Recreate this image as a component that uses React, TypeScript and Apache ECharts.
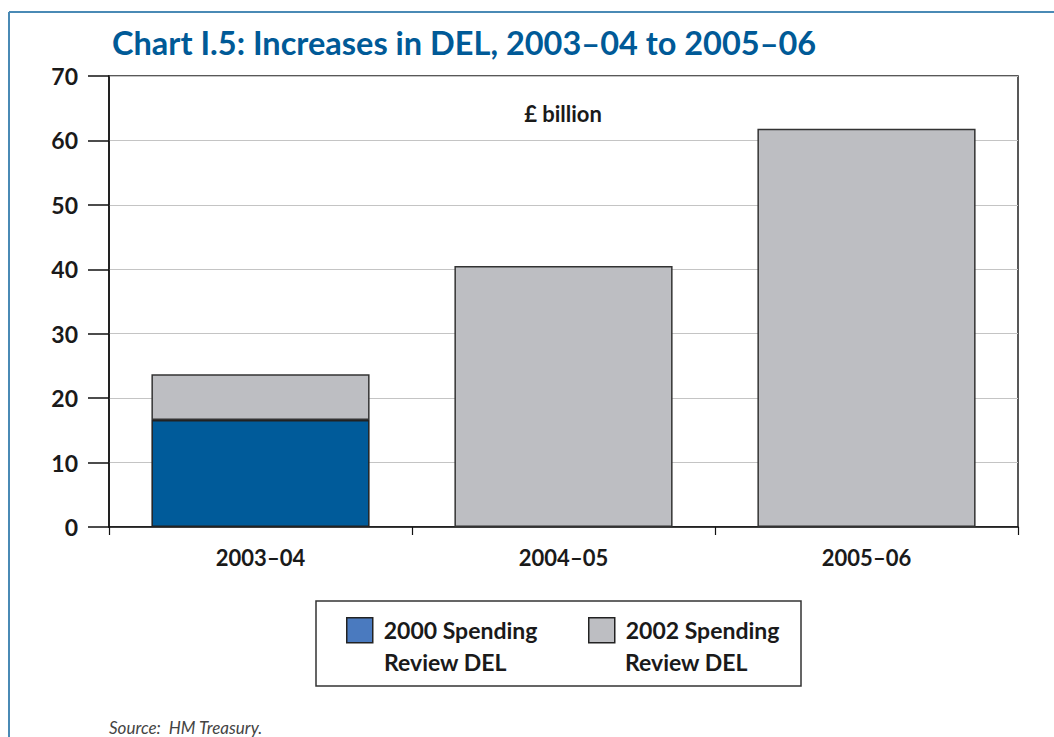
import React, { useEffect, useRef } from "react";
import * as echarts from "echarts";

const categories = ["2003–04", "2004–05", "2005–06"];
const seriesNames = ["2000 Spending Review DEL", "2002 Spending Review DEL"];
const sr2000Values: (number | string)[] = [16.6, "-", "-"];
const sr2002Values = [7.1, 40.5, 61.8];
const yTicks = { min: 0, max: 70, interval: 10 };

const FONT = "Lato, 'Open Sans', sans-serif";
const BLUE_BAR = "#005b9a";
const BLUE_KEY = "#4a7abf";
const GREY = "#bdbec2";

export default function App() {
  const ref = useRef<HTMLDivElement>(null);
  useEffect(() => {
    if (!ref.current) return;
    const chart = echarts.init(ref.current, undefined, { renderer: "svg" });
    const firstLine = (name: string) => name.split(" Review")[0];
    const legendCommon = {
      top: 617,
      orient: "horizontal",
      icon: "rect",
      itemWidth: 26,
      itemHeight: 25,
      selectedMode: false,
      padding: 0,
      formatter: firstLine,
      textStyle: { color: "#1a1a1a", fontSize: 23, fontWeight: "bold", padding: [3, 0, 0, 6], fontFamily: FONT },
    };
    chart.setOption({
      animation: false,
      textStyle: { fontFamily: FONT },
      title: {
        text: "Chart I.5: Increases in DEL, 2003–04 to 2005–06",
        left: 107,
        top: 21,
        textStyle: { color: "#005a97", fontSize: 32.5, fontWeight: "bold", fontFamily: FONT },
      },
      grid: {
        left: 109,
        top: 76,
        width: 909,
        height: 451,
        show: true,
        borderColor: "#222",
        borderWidth: 1.5,
        backgroundColor: "transparent",
      },
      xAxis: {
        type: "category",
        data: categories,
        axisLine: { lineStyle: { color: "#111", width: 1.5 } },
        axisTick: { show: true, length: 8, lineStyle: { color: "#111", width: 1.2 } },
        axisLabel: { color: "#1a1a1a", fontSize: 22, fontWeight: "bold", margin: 19, fontFamily: FONT },
      },
      yAxis: {
        type: "value",
        min: yTicks.min,
        max: yTicks.max,
        interval: yTicks.interval,
        axisLine: { show: true, lineStyle: { color: "#111", width: 1.5 } },
        axisTick: { show: true, length: 21, lineStyle: { color: "#111", width: 1.5 } },
        axisLabel: { color: "#1a1a1a", fontSize: 23, fontWeight: "bold", margin: 31, fontFamily: FONT },
        splitLine: { show: true, lineStyle: { color: "#c4c4c4", width: 1 } },
      },
      legend: [
        {
          ...legendCommon,
          left: 346,
          data: [{ name: seriesNames[0], itemStyle: { color: BLUE_KEY, borderColor: "#222", borderWidth: 1.5 } }],
        },
        {
          ...legendCommon,
          left: 588,
          data: [{ name: seriesNames[1], itemStyle: { color: GREY, borderColor: "#222", borderWidth: 1.5 } }],
        },
      ],
      graphic: [
        { type: "line", shape: { x1: 9, y1: 12, x2: 1054, y2: 12 }, style: { stroke: "#4a8ab5", lineWidth: 2 } },
        { type: "line", shape: { x1: 9, y1: 12, x2: 9, y2: 737 }, style: { stroke: "#4a8ab5", lineWidth: 2 } },
        {
          type: "rect",
          shape: { x: 316, y: 601, width: 485, height: 85 },
          style: { fill: "none", stroke: "#333", lineWidth: 1.5 },
        },
        {
          type: "text",
          x: 384,
          y: 662,
          style: { text: "Review DEL", fill: "#1a1a1a", font: `bold 23px ${FONT}`, textAlign: "left", textVerticalAlign: "middle" },
        },
        {
          type: "text",
          x: 625,
          y: 662,
          style: { text: "Review DEL", fill: "#1a1a1a", font: `bold 23px ${FONT}`, textAlign: "left", textVerticalAlign: "middle" },
        },
        {
          type: "text",
          x: 563,
          y: 113,
          style: {
            text: "£ billion",
            fill: "#1a1a1a",
            font: `bold 22px ${FONT}`,
            textAlign: "center",
            textVerticalAlign: "middle",
          },
        },
        {
          type: "text",
          x: 109,
          y: 727,
          style: {
            text: "Source:  HM Treasury.",
            fill: "#444",
            font: `italic 17px ${FONT}`,
            textAlign: "left",
            textVerticalAlign: "middle",
          },
        },
      ],
      series: [
        {
          name: seriesNames[0],
          type: "bar",
          stack: "del",
          barWidth: "72%",
          data: sr2000Values,
          itemStyle: { color: BLUE_BAR, borderColor: "#222", borderWidth: 1.5 },
        },
        {
          name: seriesNames[1],
          type: "bar",
          stack: "del",
          barWidth: "72%",
          data: sr2002Values,
          itemStyle: { color: GREY, borderColor: "#333", borderWidth: 1.5 },
        },
      ],
    });
    return () => chart.dispose();
  }, []);
  return (
    <div
      ref={ref}
      style={{ position: "fixed", left: 0, top: 0, width: 1054, height: 737, background: "#fff" }}
    />
  );
}
